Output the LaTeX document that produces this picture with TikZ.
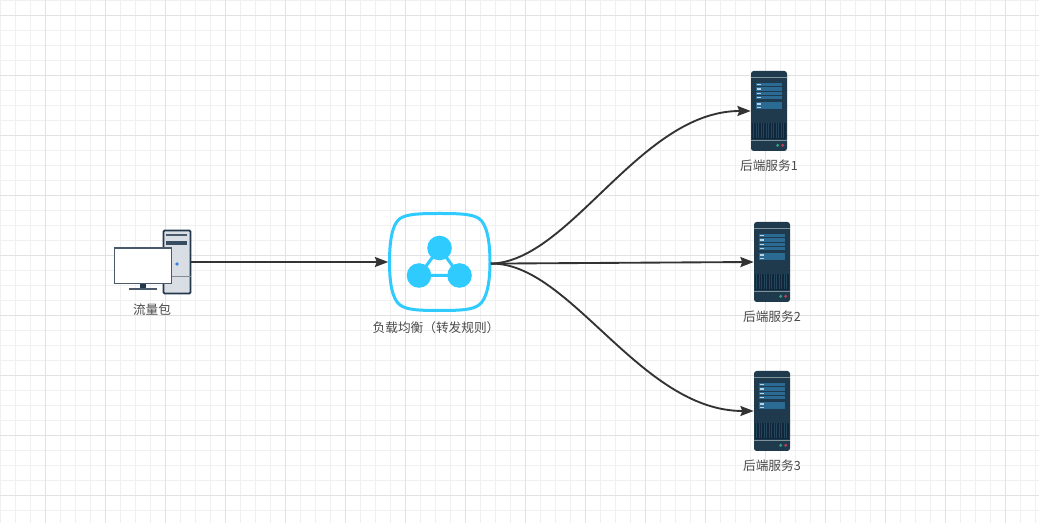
\documentclass[tikz,border=0pt]{standalone}
\usepackage{fontspec}
\setmainfont{Noto Sans CJK SC}
\usetikzlibrary{arrows.meta}
\definecolor{minorgrid}{HTML}{F0F0F0}
\definecolor{majorgrid}{HTML}{E2E2E2}
\definecolor{edgecol}{HTML}{333333}
\definecolor{lbblue}{HTML}{2FCBFF}
\definecolor{srvbody}{HTML}{1F3A4D}
\definecolor{srvrow}{HTML}{2A6A93}
\definecolor{srvvent}{HTML}{10263A}
\definecolor{srvstripe}{HTML}{24465C}
\definecolor{srvline}{HTML}{7F939B}
\definecolor{srvdash}{HTML}{B9D3E2}
\definecolor{srvgreen}{HTML}{2F9E7E}
\definecolor{srvred}{HTML}{C03A55}
\definecolor{pcdark}{HTML}{23384D}
\definecolor{pcbody}{HTML}{D9DEE4}
\definecolor{pcframe}{HTML}{4A5A6B}
\definecolor{pcdot}{HTML}{3B82E6}
\definecolor{labelcol}{HTML}{4A4A4A}
\tikzset{
  x=0.75pt,y=-0.75pt,
  flow/.style={draw=edgecol,line width=1.4pt,-{Stealth[length=10pt,width=7.5pt,inset=1.4pt]}},
  lbl/.style={text=labelcol,font=\fontsize{9.5pt}{11pt}\selectfont,inner sep=0pt,anchor=center},
  srvbox/.style={rectangle,minimum width=27pt,minimum height=60pt,inner sep=0pt,fill=srvbody,rounded corners=2pt},
  server/.pic={
    \draw[srvline,line width=1.2pt] (0,6.5)--(36,6.5);
    \draw[srvline,line width=1.2pt] (0,69.7)--(36,69.7);
    \foreach \ry in {11.7,16.3,20.7,24.7,31.3,35}{
      \fill[srvrow] (5,\ry) rectangle (31,\ry+3.4);
      \fill[srvdash] (6,\ry+1.1) rectangle (10,\ry+2.3);
    }
    \fill[srvvent] (1,51.7) rectangle (35,68.3);
    \foreach \vx in {2.5,5,...,34}{
      \draw[srvstripe,line width=0.5pt] (\vx,52.5)--(\vx,67.5);
    }
    \fill[srvgreen] (26.7,74.3) circle[radius=1.7];
    \fill[srvred] (31.7,74.3) circle[radius=1.7];
  }
}
\begin{document}
\begin{tikzpicture}
\useasboundingbox (0,0) rectangle (1039,523);
\fill[white] (0,0) rectangle (1039,523);
% grid
\foreach \gx in {0,...,69}{
  \draw[minorgrid,line width=0.75pt] (\gx*15+0.5,0)--(\gx*15+0.5,523);
}
\foreach \gy in {0,...,34}{
  \draw[minorgrid,line width=0.75pt] (0,\gy*15+0.5)--(1039,\gy*15+0.5);
}
\foreach \gx in {0,...,16}{
  \draw[majorgrid,line width=0.75pt] (\gx*60+45.5,0)--(\gx*60+45.5,523);
}
\foreach \gy in {0,...,8}{
  \draw[majorgrid,line width=0.75pt] (0,\gy*60+15.5)--(1039,\gy*60+15.5);
}
% PC
\node[rectangle,minimum width=20.25pt,minimum height=47.25pt,inner sep=0pt,fill=pcbody,draw=pcdark,line width=1.3pt,rounded corners=0.8pt] (tower) at (177,262) {};
\fill[pcframe] (166,234.5) rectangle (187,236.5);
\fill[pcdark!90!white] (166,241.5) rectangle (187,245);
\draw[pcframe!70!white,line width=0.7pt] (163.5,276)--(190.5,276);
\fill[pcdot] (177,264) circle[radius=1.8];
\fill[pcdark] (140,283)rectangle(146,288);
\fill[pcframe] (129,288)rectangle(157,290);
\draw[fill=white,draw=pcframe,line width=1.1pt] (114.5,248) rectangle (171.5,283.5);
\node[lbl] (pclabel) at (152,310) {流量包};
% load balancer
\node[rectangle,minimum width=76.5pt,minimum height=73.5pt,inner sep=0pt] (lb) at (439.5,262) {};
\draw[lbblue,line width=2.25pt]
  (439.5,213.5) .. controls (460,213.5) and (472,214) .. (479,218.5)
  .. controls (487,224) and (490,242) .. (490,262)
  .. controls (490,282) and (487,299) .. (479,305)
  .. controls (472,310) and (460,310.5) .. (439.5,310.5)
  .. controls (419,310.5) and (407,310) .. (400,305)
  .. controls (392,299) and (389.5,282) .. (389.5,262)
  .. controls (389.5,242) and (392,224) .. (400,218.5)
  .. controls (407,214) and (419,213.5) .. (439.5,213.5) -- cycle;
\draw[lbblue,line width=2.25pt] (439.5,248)--(419,275.5)--(459.5,275.5)--cycle;
\fill[lbblue] (439.5,248) circle[radius=12.3];
\fill[lbblue] (419,275.5) circle[radius=12.3];
\fill[lbblue] (459.5,275.5) circle[radius=12.3];
\node[lbl] (lblabel) at (436,328) {负载均衡（转发规则）};
% servers
\node[srvbox] (s1) at (769,111) {};
\pic at (751,71) {server};
\node[lbl] (s1label) at (769,166) {后端服务1};
\node[srvbox] (s2) at (772,262) {};
\pic at (754,222) {server};
\node[lbl] (s2label) at (772,317) {后端服务2};
\node[srvbox] (s3) at (772,411) {};
\pic at (754,371) {server};
\node[lbl] (s3label) at (772,466) {后端服务3};
% connectors
\coordinate (lbout) at ([yshift=-1.2pt]lb.east);
\draw[flow] (tower.east) -- (lb.west);
\draw[flow] (lbout) .. controls (570,262) and (640,111) .. (s1.west);
\draw[flow] (lbout) -- (s2.west);
\draw[flow] (lbout) .. controls (570,262) and (640,411) .. (s3.west);
\end{tikzpicture}
\end{document}
